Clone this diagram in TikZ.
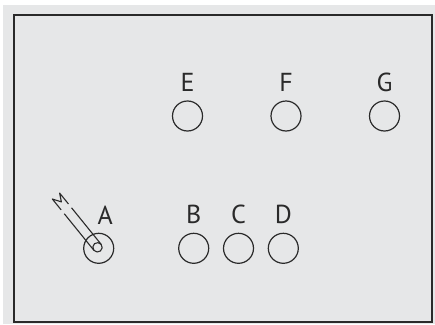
\documentclass[tikz,border=0pt]{standalone}
\usepackage{fontspec}
\setmainfont{PT Sans}
\usetikzlibrary{positioning}
\definecolor{panel}{HTML}{E6E7E8}
\definecolor{ink}{HTML}{2A2A2A}
\tikzset{
    hole/.style={draw=ink, line width=1.2pt, circle, minimum size=30pt, inner sep=0pt},
    tag/.style={text=ink, font=\fontsize{26}{30}\selectfont, inner sep=0pt},
    rod/.style={draw=ink, line width=1.1pt, line join=round},
}
\begin{document}
\begin{tikzpicture}[x=1pt, y=-1pt]

    \useasboundingbox (0,0) rectangle (435,324);
    \fill [panel] (3,5) rectangle (435,324);
    \draw [ink, line width=2pt] (13.5,14.5) rectangle (431.5,322.3);

    \node [hole] (e) at (187.5,116) {};
    \node [hole] (f) at (286,116) {};
    \node [hole] (g) at (384.5,116) {};

    \node [hole] (a) at (98.7,248.3) {};
    \node [hole] (b) at (193.7,248.3) {};
    \node [hole] (c) at (238.5,248.3) {};
    \node [hole] (d) at (283.3,248.3) {};

    \node [tag, above=8.5pt of e] (le) {E};
    \node [tag, above=8.5pt of f] (lf) {F};
    \node [tag, above=8.5pt of g] (lg) {G};
    \node [tag, above=8.5pt of b] (lb) {B};
    \node [tag, above=8.5pt of c] (lc) {C};
    \node [tag, above=8.5pt of d] (ld) {D};
    \node [tag, above=8.5pt of a, xshift=6.5pt] (la) {A};

    \begin{scope}[shift={(97.5,247.3)}, rotate=129]
        \draw [rod] (0,0) circle [radius=4.7pt];
        \draw [rod] (0,4.7) -- (47,4.7);
        \draw [rod] (0,-4.7) -- (47,-4.7);
        \draw [rod] (52,4.7) -- (66,4.7) -- (58,0.5) -- (66,-4.7) -- (52,-4.7);
    \end{scope}

\end{tikzpicture}
\end{document}
